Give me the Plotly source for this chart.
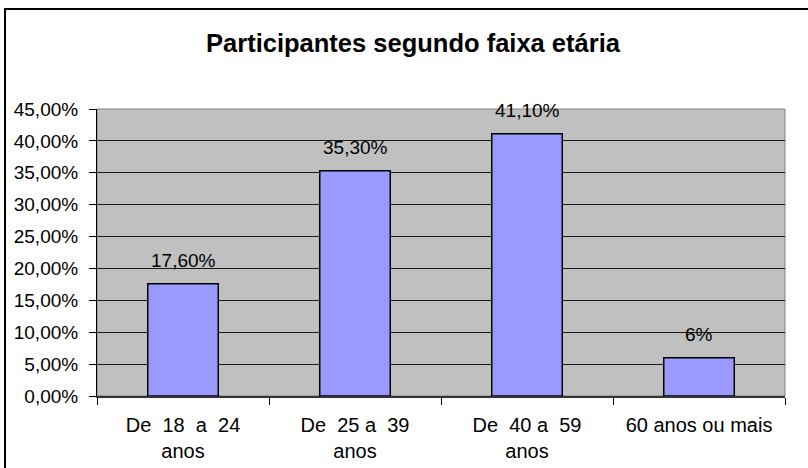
import plotly.graph_objects as go

categories = ["De\u00a0 18\u00a0 a\u00a0 24<br>anos", "De\u00a0 25 a\u00a0 39<br>anos", "De\u00a0 40 a\u00a0 59<br>anos", "60 anos ou mais"]
values = [17.6, 35.3, 41.1, 6.0]
value_labels = ["17,60%", "35,30%", "41,10%", "6%"]
title_text = "Participantes segundo faixa etária"

FONT = "Liberation Sans, Arial, sans-serif"

fig = go.Figure()
fig.add_trace(go.Bar(
    x=categories, y=values,
    marker=dict(color="#9999FF", line=dict(color="black", width=1.5)),
    width=0.41,
))

for c, v, t in zip(categories, values, value_labels):
    fig.add_annotation(x=c, y=v, text=t, showarrow=False, yanchor="bottom",
                       yshift=11, font=dict(family=FONT, size=19, color="black"))

fig.update_layout(
    width=808, height=468,
    margin=dict(l=97, r=23, t=109, b=72, autoexpand=False),
    paper_bgcolor="white", plot_bgcolor="#C0C0C0",
    separators=",.",
    showlegend=False,
    font=dict(family=FONT, color="black"),
    title=dict(text="<b>" + title_text + "</b>", x=413 / 808, xref="container", xanchor="center",
               y=1 - 43 / 468, yref="container", yanchor="middle",
               font=dict(family=FONT, size=25.5, color="black")),
    shapes=[
        dict(type="rect", xref="paper", yref="paper", x0=0, x1=1, y0=0, y1=1,
             line=dict(color="#808080", width=1), layer="below"),
        dict(type="rect", xref="paper", yref="paper", x0=(5 - 97) / 688, x1=1.04,
             y0=-0.27, y1=(396 - 9) / 287,
             line=dict(color="black", width=2), fillcolor="rgba(0,0,0,0)"),
    ],
)

fig.update_xaxes(
    type="category", tickson="boundaries", ticks="outside", ticklen=7, tickcolor="black",
    showline=True, linecolor="#333333", linewidth=2, showgrid=False,
    ticklabelstandoff=10, automargin=False,
    tickfont=dict(family=FONT, size=20, color="black"),
)
fig.update_yaxes(
    range=[0, 45], dtick=5, tickformat=".2f", ticksuffix="%",
    ticks="outside", ticklen=7, tickcolor="black",
    showline=True, linecolor="black", linewidth=1,
    showgrid=True, gridcolor="#1a1a1a", gridwidth=1, zeroline=False,
    ticklabelstandoff=7, automargin=False,
    tickfont=dict(family=FONT, size=19, color="black"),
)

fig.write_html("out.html", config={"displayModeBar": False},
               post_script="document.body.style.margin='0';document.body.style.overflow='hidden';")
